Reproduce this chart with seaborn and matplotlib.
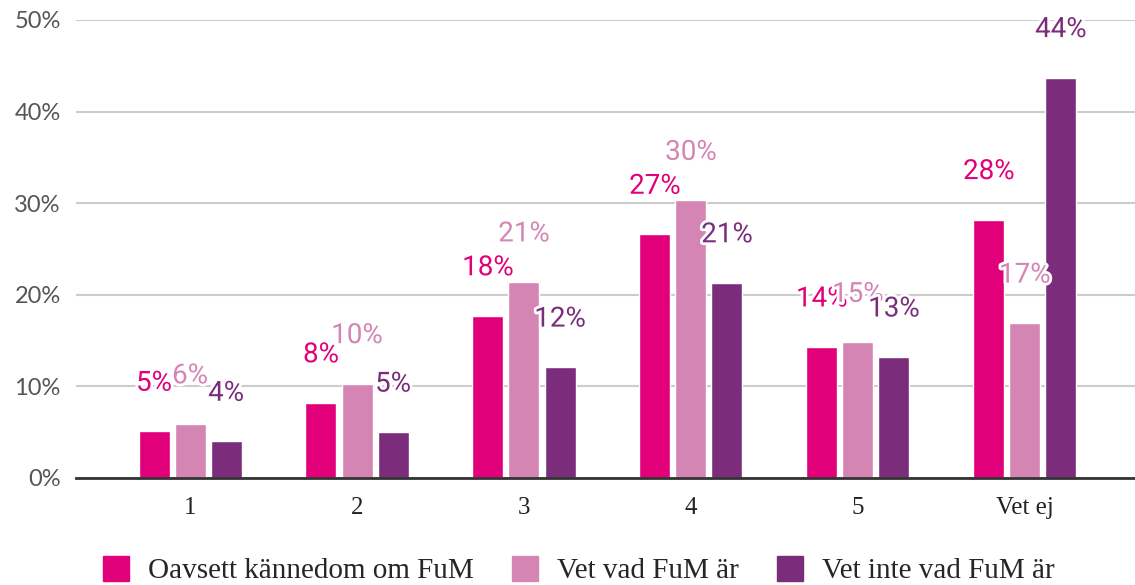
import seaborn as sns
import pandas as pd
import matplotlib.pyplot as plt
import matplotlib.patheffects as pe

# data (percent)
kategorier = ['1', '2', '3', '4', '5', 'Vet ej']
serier = ['Oavsett kännedom om FuM', 'Vet vad FuM är', 'Vet inte vad FuM är']
oavsett = [5.1, 8.2, 17.7, 26.6, 14.3, 28.2]
vet_vad = [5.9, 10.3, 21.4, 30.3, 14.8, 16.9]
vet_inte = [4.0, 5.0, 12.1, 21.3, 13.2, 43.7]
farger = ['#E2007A', '#D585B3', '#7B2D7C']

df = pd.DataFrame({
    'Kategori': kategorier * 3,
    'Serie': [serier[0]] * 6 + [serier[1]] * 6 + [serier[2]] * 6,
    'Andel': oavsett + vet_vad + vet_inte,
})

sns.set_style("white")
fig = plt.figure(figsize=(11.35, 5.85), dpi=100)
ax = fig.add_axes([0.067, 0.183, 0.933, 0.783])

sns.barplot(data=df, x='Kategori', y='Andel', hue='Serie', palette=farger,
            width=0.648, gap=0.14, ax=ax, legend=False, saturation=1)

ax.set_ylim(0, 50)
ax.set_xlim(-0.683, 5.66)
ax.set_yticks(range(0, 51, 10))
ax.set_yticklabels([f'{v}%' for v in range(0, 51, 10)],
                   fontfamily='Lato', fontsize=17, color='#555555')
ax.set_xticks(range(len(kategorier)))
ax.set_xticklabels(kategorier, fontfamily='Liberation Serif', fontsize=18, color='#222222')
ax.tick_params(axis='y', length=0, pad=11)
ax.tick_params(axis='x', length=0, pad=14)
ax.set_xlabel('')
ax.set_ylabel('')
ax.yaxis.grid(True, color='#cccccc', linewidth=1.5)
ax.set_axisbelow(True)
for s in ['top', 'right', 'left']:
    ax.spines[s].set_visible(False)
ax.spines['bottom'].set_color('#333333')
ax.spines['bottom'].set_linewidth(2)

# data labels above each bar
for cont, farg in zip(ax.containers, farger):
    for bar in cont:
        h = bar.get_height()
        ax.annotate(f'{round(h)}%', (bar.get_x() + bar.get_width() / 2, h),
                    xytext=(0, 48), textcoords='offset pixels',
                    ha='center', va='center', fontsize=20, color=farg,
                    fontfamily='Roboto', clip_on=False,
                    path_effects=[pe.withStroke(linewidth=4, foreground='white')])

handles = [plt.Rectangle((0, 0), 1, 1, color=c) for c in farger]
fig.legend(handles, serier, loc='center', bbox_to_anchor=(0.51, 0.025), ncol=3,
           frameon=False, prop={'family': 'Liberation Serif', 'size': 21},
           handlelength=0.9, handleheight=0.9, handletextpad=0.65, columnspacing=1.3)

fig.savefig('out.png', dpi=100)
